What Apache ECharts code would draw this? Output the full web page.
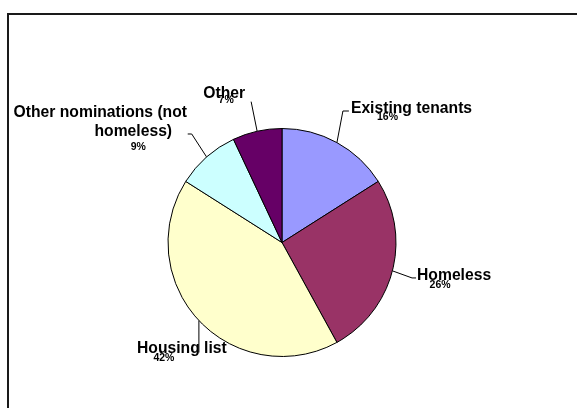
<!DOCTYPE html>
<html>
<head>
<meta charset="utf-8">
<title>Allocations by source</title>
<script src="https://cdn.jsdelivr.net/npm/echarts@6/dist/echarts.min.js"></script>
<style>
  html, body { margin: 0; padding: 0; background: #fff; }
  #chart { width: 577px; height: 408px; }
</style>
</head>
<body>
<div id="chart"></div>
<script>
// Share of lettings by route of entry (percent)
const categories = ['Existing tenants', 'Homeless', 'Housing list', 'Other nominations (not\nhomeless)', 'Other'];
const shares = [16, 26, 42, 9, 7];
const sliceColors = ['#9999FF', '#993366', '#FFFFCC', '#CCFFFF', '#660066'];

// Leader-line and label placement per slice, relative to the slice edge point
// elbow: bend offset from edge; run: horizontal tail; at: name-line anchor offset from tail end
// nameLH / pctLH: line heights; pctShift / lineShift: horizontal nudges of the percent / second name line
const labelGeom = [
  { elbow: [6, -31.6],    run: 6,  align: 'left',   at: [2, -2.5],   nameLH: 10,   pctLH: 8,  pctShift: -24, lineShift: 0 },
  { elbow: [19.6, 7.1],   run: 4,  align: 'left',   at: [1, -2],     nameLH: 10,   pctLH: 8,  pctShift: -14, lineShift: 0 },
  { elbow: [0, 32],       run: 0,  align: 'center', at: [-17, -3.5], nameLH: 10,   pctLH: 8,  pctShift: -18, lineShift: 0 },
  { elbow: [-14.9, -23],  run: -4, align: 'right',  at: [-0.7, -21], nameLH: 18.7, pctLH: 12, pctShift: 38,  lineShift: 33 },
  { elbow: [-6, -29.6],   run: 0,  align: 'center', at: [-27, -8],   nameLH: 6,    pctLH: 6,  pctShift: 2,   lineShift: 0 }
];

const FONT = '"Liberation Sans", Arial, sans-serif';

function shiftPadding(s) {
  return s >= 0 ? [0, 0, 0, 2 * s] : [0, -2 * s, 0, 0];
}

const pieData = categories.map(function (name, i) {
  const g = labelGeom[i];
  return {
    name: name,
    value: shares[i],
    itemStyle: { color: sliceColors[i] },
    label: {
      rich: {
        n: { fontFamily: FONT, fontWeight: 'bold', fontSize: 15.7, color: '#000', lineHeight: g.nameLH, align: 'center' },
        m: { fontFamily: FONT, fontWeight: 'bold', fontSize: 15.7, color: '#000', lineHeight: g.nameLH, align: 'center', padding: shiftPadding(g.lineShift) },
        p: { fontFamily: FONT, fontWeight: 'bold', fontSize: 10.5, color: '#000', lineHeight: g.pctLH, align: 'center', padding: shiftPadding(g.pctShift) }
      }
    }
  };
});

const chart = echarts.init(document.getElementById('chart'), null, { renderer: 'canvas' });

chart.setOption({
  animation: false,
  backgroundColor: '#ffffff',
  graphic: [{
    type: 'rect',
    silent: true,
    shape: { x: 8, y: 14, width: 620, height: 430 },
    style: { fill: 'none', stroke: '#1a1a1a', lineWidth: 2 }
  }],
  series: [{
    type: 'pie',
    center: [282, 242.5],
    radius: 114,
    startAngle: 90,
    clockwise: true,
    avoidLabelOverlap: false,
    emphasis: { disabled: true },
    itemStyle: { borderColor: '#000', borderWidth: 1 },
    label: {
      show: true,
      position: 'outside',
      formatter: function (p) {
        const lines = p.name.split('\n');
        const nameText = lines.map(function (l, k) {
          return (k === 0 ? '{n|' : '{m|') + l + '}';
        }).join('\n');
        return nameText + '\n{p|' + p.value + '%}';
      }
    },
    labelLine: {
      show: true,
      length: 20,
      length2: 5,
      smooth: false,
      lineStyle: { color: '#000', width: 1 }
    },
    labelLayout: function (params) {
      const g = labelGeom[params.dataIndex];
      const pts = params.labelLinePoints;
      if (!pts || !pts.length) return {};
      const e = pts[0];
      const elbow = [e[0] + g.elbow[0], e[1] + g.elbow[1]];
      const end = [elbow[0] + g.run, elbow[1]];
      return {
        x: end[0] + g.at[0],
        y: end[1] + g.at[1] - g.nameLH / 2,
        align: g.align,
        verticalAlign: 'top',
        labelLinePoints: [e, elbow, end]
      };
    },
    data: pieData
  }]
});
</script>
</body>
</html>
